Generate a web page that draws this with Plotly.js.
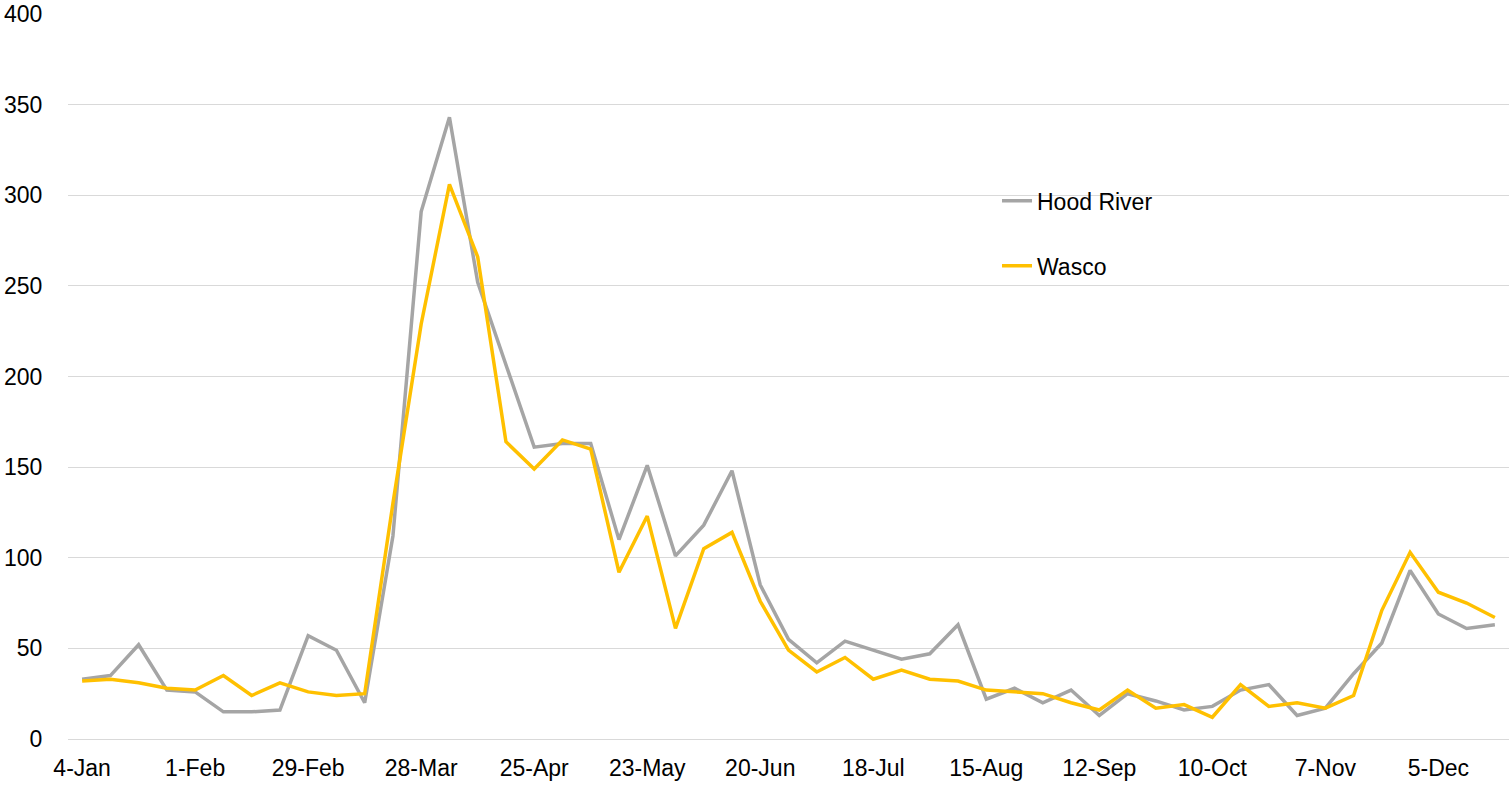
<!DOCTYPE html>
<html>
<head>
<meta charset="utf-8">
<script src="https://cdn.plot.ly/plotly-3.0.1.min.js"></script>
<style>html,body{margin:0;padding:0;background:#fff;}#chart{width:1509px;height:785px;}</style>
</head>
<body>
<div id="chart"></div>
<script>
const weeks = ["4-Jan","11-Jan","18-Jan","25-Jan","1-Feb","8-Feb","15-Feb","22-Feb","29-Feb","7-Mar","14-Mar","21-Mar","28-Mar","4-Apr","11-Apr","18-Apr","25-Apr","2-May","9-May","16-May","23-May","30-May","6-Jun","13-Jun","20-Jun","27-Jun","4-Jul","11-Jul","18-Jul","25-Jul","1-Aug","8-Aug","15-Aug","22-Aug","29-Aug","5-Sep","12-Sep","19-Sep","26-Sep","3-Oct","10-Oct","17-Oct","24-Oct","31-Oct","7-Nov","14-Nov","21-Nov","28-Nov","5-Dec","12-Dec","19-Dec"];
const hoodRiver = [33,35,52,27,26,15,15,16,57,49,20,112,291,343,252,207,161,163,163,110,151,101,118,148,85,55,42,54,49,44,47,63,22,28,20,27,13,25,21,16,18,27,30,13,17,36,53,93,69,61,63];
const wasco = [32,33,31,28,27,35,24,31,26,24,25,130,229,306,266,164,149,165,160,92,123,61,105,114,76,49,37,45,33,38,33,32,27,26,25,20,16,27,17,19,12,30,18,20,17,24,71,103,81,75,67];
const tickLabels = ["4-Jan","1-Feb","29-Feb","28-Mar","25-Apr","23-May","20-Jun","18-Jul","15-Aug","12-Sep","10-Oct","7-Nov","5-Dec"];
const yTicks = [0,50,100,150,200,250,300,350,400];

const traces = [
  {x: weeks, y: hoodRiver, name: "Hood River", type: "scatter", mode: "lines",
   line: {color: "#a5a5a5", width: 3.5}, legendgroup: "a"},
  {x: weeks, y: wasco, name: "Wasco", type: "scatter", mode: "lines",
   line: {color: "#ffc000", width: 3.5}, legendgroup: "b"}
];

const layout = {
  width: 1509, height: 785,
  margin: {l: 68, r: 0, t: 14, b: 46},
  paper_bgcolor: "#fff", plot_bgcolor: "#fff",
  font: {family: "Liberation Sans, Arial, sans-serif", size: 23, color: "#000"},
  showlegend: true,
  legend: {x: 0.6447, y: 0.772, xanchor: "left", yanchor: "top",
    traceorder: "grouped", tracegroupgap: 32, itemwidth: 30,
    font: {size: 23, color: "#000"}, bgcolor: "rgba(0,0,0,0)"},
  xaxis: {type: "category", range: [-0.5, weeks.length - 0.5],
    tickmode: "array", tickvals: tickLabels, ticktext: tickLabels,
    showgrid: false, zeroline: false, showline: false,
    ticks: "outside", ticklen: 8, tickcolor: "rgba(0,0,0,0)",
    tickfont: {size: 23, color: "#000"}, fixedrange: true},
  yaxis: {range: [0, 400], tickmode: "array", tickvals: yTicks,
    showgrid: true, gridcolor: "#d9d9d9", gridwidth: 1,
    zeroline: true, zerolinecolor: "#d9d9d9", zerolinewidth: 1,
    showline: false, ticks: "outside", ticklen: 20, tickcolor: "rgba(0,0,0,0)",
    tickfont: {size: 23, color: "#000"}, fixedrange: true}
};

Plotly.newPlot("chart", traces, layout, {displayModeBar: false, staticPlot: true});
</script>
</body>
</html>
